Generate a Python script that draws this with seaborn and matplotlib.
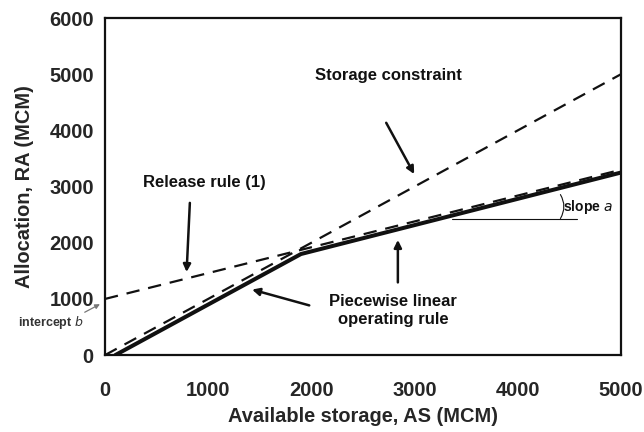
import matplotlib
matplotlib.use("Agg")
import matplotlib.pyplot as plt
import seaborn as sns
import pandas as pd

# ---- data ----
storage_x = [0, 5000]
storage_y = [0, 5000]          # storage constraint RA = AS
release_x = [0, 5000]
release_y = [1000, 3300]       # release rule (1): intercept b, slope a
piece_x = [100, 1900, 5000]
piece_y = [0, 1800, 3250]      # piecewise linear operating rule

x_ticks = [0, 1000, 2000, 3000, 4000, 5000]
y_ticks = [0, 1000, 2000, 3000, 4000, 5000, 6000]

sns.set_style("white")
plt.rcParams['font.family'] = ['Liberation Sans', 'DejaVu Sans']

fig = plt.figure(figsize=(6.44, 4.32), dpi=100)
ax = fig.add_axes([0.163, 0.178, 0.801, 0.780])

ink = "#111111"
df_p = pd.DataFrame({"x": piece_x, "y": piece_y})
df_s = pd.DataFrame({"x": storage_x, "y": storage_y})
df_r = pd.DataFrame({"x": release_x, "y": release_y})

sns.lineplot(data=df_p, x="x", y="y", ax=ax, color=ink, linewidth=2.9, sort=False)
sns.lineplot(data=df_s, x="x", y="y", ax=ax, color=ink, linewidth=1.6, sort=False)
sns.lineplot(data=df_r, x="x", y="y", ax=ax, color=ink, linewidth=1.6, sort=False)
for ln in ax.lines[1:]:
    ln.set_dashes([6, 4])

ax.set_xlim(0, 5000)
ax.set_ylim(0, 6000)
ax.set_xticks(x_ticks)
ax.set_yticks(y_ticks)
ax.set_xticklabels([str(v) for v in x_ticks], fontsize=14.5, fontweight='bold')
ax.set_yticklabels([str(v) for v in y_ticks], fontsize=14.5, fontweight='bold')
ax.tick_params(axis='both', direction='out', length=5, width=1, color=ink)
ax.tick_params(axis='y', pad=3)
ax.tick_params(axis='x', pad=14)
ax.set_xlabel("Available storage, AS (MCM)", fontsize=14.4, fontweight='bold', labelpad=5)
ax.set_ylabel("Allocation, RA (MCM)", fontsize=14.4, fontweight='bold', labelpad=11)
for sp in ax.spines.values():
    sp.set_color(ink)
    sp.set_linewidth(1.6)

bold = dict(fontsize=12, fontweight='bold', color=ink)
arrow = dict(arrowstyle='-|>', color=ink, lw=1.8, mutation_scale=11)

ax.text(2745, 4980, "Storage constraint", ha='center', va='center', **bold)
ax.annotate("", xy=(3010, 3180), xytext=(2713, 4180), arrowprops=arrow)

ax.text(965, 3080, "Release rule (1)", ha='center', va='center', **bold)
ax.annotate("", xy=(790, 1430), xytext=(824, 2760), arrowprops=arrow)

ax.text(2790, 800, "Piecewise linear\noperating rule", ha='center', va='center',
        linespacing=1.25, **bold)
ax.annotate("", xy=(2839, 2100), xytext=(2839, 1245), arrowprops=arrow)
ax.annotate("", xy=(1400, 1180), xytext=(2006, 872), arrowprops=arrow)

# slope a
ax.plot([3360, 4574], [2420, 2420], color=ink, lw=0.8)
ax.annotate("", xy=(4400, 2390), xytext=(4400, 2900),
            arrowprops=dict(arrowstyle='-', color=ink, lw=0.8,
                            connectionstyle='arc3,rad=-0.35'))
ax.text(4440, 2640, "slope $\\it{a}$", ha='left', va='center',
        fontsize=10, fontweight='bold', color=ink)

# intercept b
ax.text(-210, 580, "intercept $\\it{b}$", ha='right', va='center',
        fontsize=9, fontweight='bold', color="#333333")
ax.annotate("", xy=(-25, 930), xytext=(-220, 740), annotation_clip=False,
            arrowprops=dict(arrowstyle='-|>', color="#777777", lw=0.9, mutation_scale=7))

fig.savefig("out.png", dpi=100, facecolor='white')
